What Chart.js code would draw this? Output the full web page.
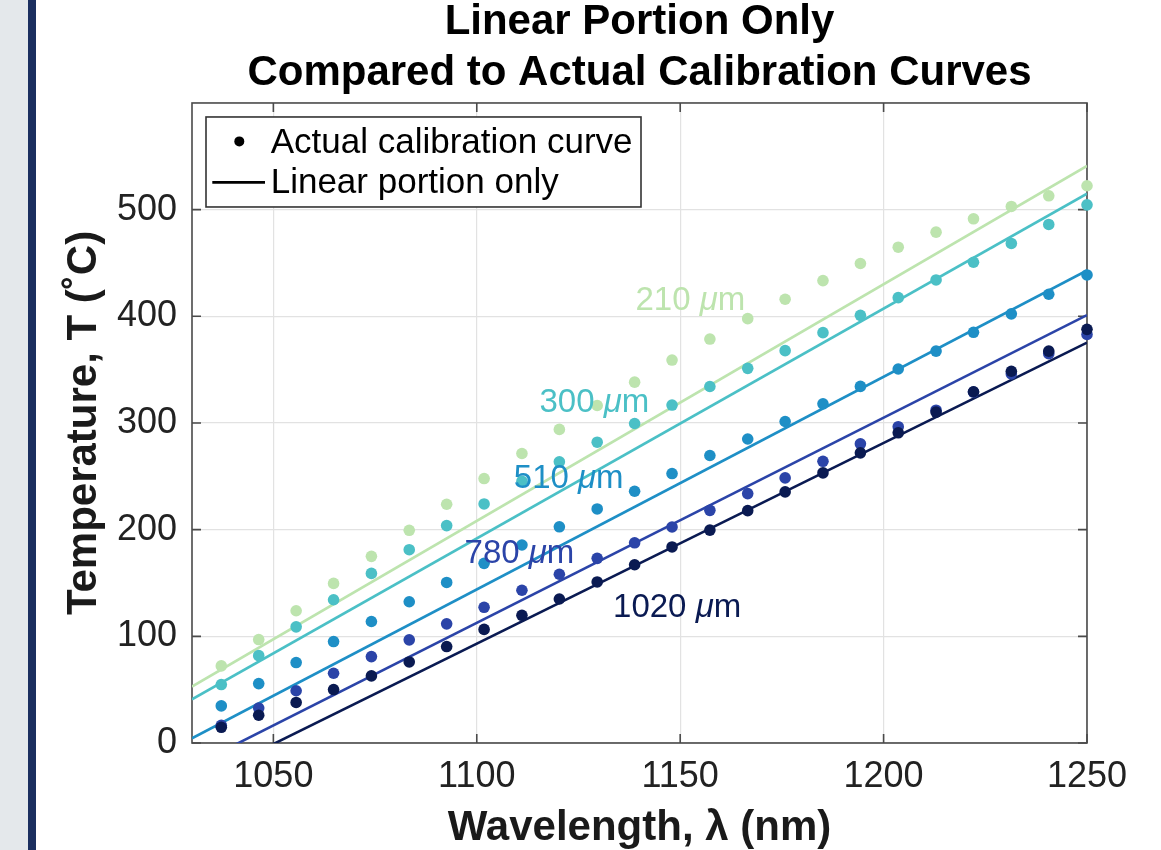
<!DOCTYPE html>
<html><head><meta charset="utf-8">
<script src="https://cdn.jsdelivr.net/npm/chart.js@4/dist/chart.umd.min.js"></script>
<style>
html,body{margin:0;padding:0;width:1161px;height:850px;overflow:hidden;background:#e4e8eb;}
#bar{position:absolute;left:28px;top:0;width:8px;height:850px;background:#1b2f5f;}
#wrap{position:absolute;left:36px;top:0;width:1125px;height:850px;background:#fff;}
</style></head><body>
<div id="bar"></div>
<div id="wrap"><canvas id="c" width="1125" height="850"></canvas></div>
<script>
// ---- data ----
const wavelengths = [1037.2, 1046.4, 1055.6, 1064.8, 1074.1, 1083.4, 1092.6, 1101.8, 1111.1, 1120.3, 1129.6, 1138.8,
                     1148.0, 1157.3, 1166.6, 1175.8, 1185.1, 1194.3, 1203.6, 1212.9, 1222.1, 1231.4, 1240.6, 1250.0];
const temp210  = [72.3, 97, 124, 149.6, 175, 199.4, 223.8, 247.9, 271.4, 294, 316.4, 338.3, 359, 378.7, 397.8, 416, 433.5, 449.5, 464.8, 478.9, 491.4, 503, 513, 522.4];
const temp300  = [54.8, 81.9, 108.9, 134.3, 159, 181.2, 203.8, 224.1, 245.4, 263.6, 282, 299.5, 316.8, 334.2, 351.2, 367.8, 384.7, 400.9, 417.5, 434.1, 450.7, 468.3, 486.1, 504.5];
const temp510  = [34.8, 55.7, 75.4, 95.1, 113.9, 132.4, 150.5, 168.4, 185.6, 202.7, 219.4, 236, 252.6, 269.5, 285, 301.4, 318, 334.3, 350.6, 367.4, 385, 402.3, 420.7, 438.8];
const temp780  = [16.5, 32.8, 49, 65.4, 81, 96.7, 111.7, 127.2, 143.2, 158.2, 173.1, 187.7, 202.5, 218.1, 233.8, 248.5, 264.1, 280.5, 296.5, 312, 329, 346, 365, 383];
const temp1020 = [14.7, 26, 38, 50.1, 62.9, 76, 90.4, 106.5, 119.7, 135, 151, 167.1, 183.8, 199.6, 217.8, 235.4, 253.2, 272, 290.8, 310.2, 329.3, 348.5, 367.4, 387.8];

// linear-portion fits: value at each end of the wavelength range
const fitWavelengths = [1030, 1250];
const fit210  = [52.9, 541];
const fit300  = [41, 515];
const fit510  = [4.4, 443];
const fit780  = [-22, 401.2];
const fit1020 = [-38.6, 375.3];

const thicknessLabels = ['210', '300', '510', '780', '1020'];
const labelWavelengths = [1139.0, 1115.4, 1109.1, 1097.0, 1133.5];
const labelTemps = [405.6, 309.9, 239.4, 169.0, 118.3];

const xTickValues = [1050, 1100, 1150, 1200, 1250];
const yTickValues = [0, 100, 200, 300, 400, 500];

const seriesColors = ['#bde4ae', '#4bc0c6', '#1e8fc6', '#2b44a8', '#0a1a52'];
const legendLabels = ['Actual calibration curve', 'Linear portion only'];

// ---- build datasets ----
const tempSeries = [temp210, temp300, temp510, temp780, temp1020];
const fitSeries = [fit210, fit300, fit510, fit780, fit1020];
const datasets = [];
tempSeries.forEach((arr, i) => {
  datasets.push({
    label: thicknessLabels[i] + ' pts',
    data: wavelengths.map((w, k) => ({x: w, y: arr[k]})),
    showLine: false, pointRadius: 5.8, pointHoverRadius: 5.8, borderWidth: 0,
    backgroundColor: seriesColors[i], pointBorderWidth: 0, clip: false, order: 4 - i
  });
});
fitSeries.forEach((arr, i) => {
  datasets.push({
    label: thicknessLabels[i] + ' fit',
    data: fitWavelengths.map((w, k) => ({x: w, y: arr[k]})),
    showLine: true, pointRadius: 0, borderWidth: 2.6, borderColor: seriesColors[i],
    backgroundColor: seriesColors[i], fill: false, order: 10 + i
  });
});

const FONT = '"Liberation Sans", Arial, Helvetica, sans-serif';
const AXIS = '#4a4a4a';

const framePlugin = {
  id: 'frame',
  beforeDatasetsDraw(chart) {
    const {ctx, chartArea: a, scales: {x, y}} = chart;
    ctx.save();
    ctx.strokeStyle = AXIS; ctx.lineWidth = 1.6;
    ctx.beginPath();
    xTickValues.forEach(v => {
      const px = x.getPixelForValue(v);
      ctx.moveTo(px, a.bottom); ctx.lineTo(px, a.bottom - 9);
      ctx.moveTo(px, a.top); ctx.lineTo(px, a.top + 9);
    });
    yTickValues.forEach(v => {
      const py = y.getPixelForValue(v);
      ctx.moveTo(a.left, py); ctx.lineTo(a.left + 9, py);
      ctx.moveTo(a.right, py); ctx.lineTo(a.right - 9, py);
    });
    ctx.stroke();
    ctx.strokeRect(a.left, a.top, a.right - a.left, a.bottom - a.top);
    ctx.restore();
  }
};

const labelPlugin = {
  id: 'thicknessLabels',
  afterDatasetsDraw(chart) {
    const {ctx, scales: {x, y}} = chart;
    ctx.save();
    ctx.textAlign = 'left'; ctx.textBaseline = 'alphabetic';
    thicknessLabels.forEach((t, i) => {
      const px = x.getPixelForValue(labelWavelengths[i]);
      const py = y.getPixelForValue(labelTemps[i]);
      ctx.fillStyle = seriesColors[i];
      ctx.font = '33px ' + FONT;
      const s1 = t + ' ';
      ctx.fillText(s1, px, py);
      let w = ctx.measureText(s1).width;
      ctx.font = 'italic 33px ' + FONT;
      ctx.fillText('\u03BC', px + w, py);
      w += ctx.measureText('\u03BC').width;
      ctx.font = '33px ' + FONT;
      ctx.fillText('m', px + w, py);
    });
    ctx.restore();
  }
};

const legendPlugin = {
  id: 'boxLegend',
  afterDraw(chart) {
    const {ctx, chartArea: a} = chart;
    const bx = a.left + 14, by = a.top + 14, bw = 435, bh = 90;
    ctx.save();
    ctx.fillStyle = '#fff';
    ctx.fillRect(bx, by, bw, bh);
    ctx.strokeStyle = '#333'; ctx.lineWidth = 1.6;
    ctx.strokeRect(bx, by, bw, bh);
    ctx.fillStyle = '#000';
    ctx.beginPath(); ctx.arc(bx + 33.3, by + 24.4, 5, 0, Math.PI * 2); ctx.fill();
    ctx.strokeStyle = '#000'; ctx.lineWidth = 2.6;
    ctx.beginPath(); ctx.moveTo(bx + 6.3, by + 65.4); ctx.lineTo(bx + 59, by + 65.4); ctx.stroke();
    ctx.font = '35px ' + FONT; ctx.textAlign = 'left'; ctx.textBaseline = 'alphabetic';
    ctx.fillText(legendLabels[0], bx + 64.7, by + 36);
    ctx.fillText(legendLabels[1], bx + 64.7, by + 76);
    ctx.restore();
  }
};

new Chart(document.getElementById('c'), {
  type: 'scatter',
  data: {datasets},
  options: {
    responsive: false, animation: false, devicePixelRatio: 1,
    layout: {padding: {left: 0, right: 74, top: 0, bottom: 0}},
    plugins: {
      legend: {display: false},
      tooltip: {enabled: false},
      title: {
        display: true, fullSize: false,
        text: ['Linear Portion Only', 'Compared to Actual Calibration Curves'],
        color: '#000', font: {family: FONT, size: 42, weight: 'bold', lineHeight: 1.214},
        padding: {top: -3, bottom: 4}
      }
    },
    scales: {
      x: {
        type: 'linear', min: 1030, max: 1250,
        afterBuildTicks: s => { s.ticks = xTickValues.map(v => ({value: v})); },
        afterFit: s => { s.height = 107; },
        grid: {color: '#e2e2e2', lineWidth: 1.2, drawTicks: false},
        border: {display: false},
        ticks: {color: '#222', font: {family: FONT, size: 36}, padding: 12, maxRotation: 0, autoSkip: false,
                callback: v => String(v)},
        title: {display: true, text: 'Wavelength, \u03BB (nm)', color: '#1a1a1a',
                font: {family: FONT, size: 42, weight: 'bold', lineHeight: 1.0}, padding: {top: 0, bottom: 1}}
      },
      y: {
        type: 'linear', min: 0, max: 600,
        afterBuildTicks: s => { s.ticks = yTickValues.map(v => ({value: v})); },
        afterFit: s => { s.width = 156; },
        grid: {color: '#e2e2e2', lineWidth: 1.2, drawTicks: false},
        border: {display: false},
        ticks: {color: '#222', font: {family: FONT, size: 36}, padding: 15, autoSkip: false,
                callback: v => String(v)},
        title: {display: true, text: 'Temperature, T (\u02DAC)', color: '#1a1a1a',
                font: {family: FONT, size: 42, weight: 'bold', lineHeight: 1.0}, padding: {top: 27, bottom: 0}}
      }
    }
  },
  plugins: [framePlugin, labelPlugin, legendPlugin]
});
</script>
</body></html>
